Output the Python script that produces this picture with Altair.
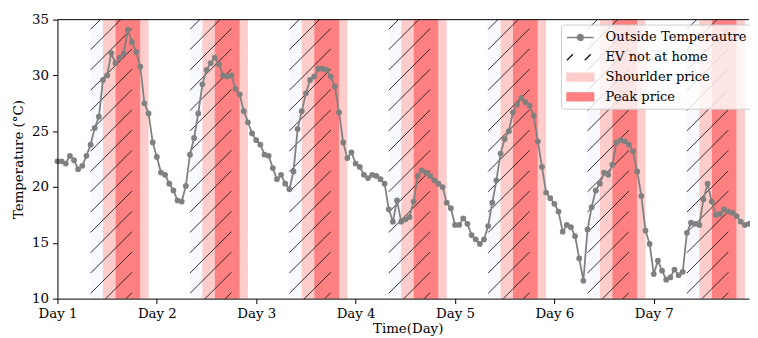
import altair as alt
import pandas as pd

# ---------------- data ----------------
temperature = [
    22.3, 22.3, 22.1, 22.8, 22.4, 21.6, 21.9, 22.8, 23.8, 25.3, 26.3, 29.6, 30.0, 32.0, 31.1, 31.6, 32.0, 34.1, 33.0, 32.1, 30.8, 27.5, 26.6, 24.0,
    22.7, 21.3, 21.1, 20.3, 19.7, 18.8, 18.7, 20.1, 22.9, 24.4, 26.6, 29.2, 30.5, 31.1, 31.6, 31.0, 30.0, 29.9, 30.0, 28.8, 28.3, 26.8, 25.8, 24.8,
    24.2, 23.8, 22.9, 22.8, 21.7, 20.7, 21.1, 20.3, 19.8, 21.4, 25.2, 26.8, 28.4, 29.6, 29.9, 30.6, 30.6, 30.5, 29.9, 29.0, 26.7, 24.0, 22.6, 23.1,
    22.1, 21.8, 21.1, 20.8, 21.1, 21.0, 20.7, 20.3, 18.0, 16.9, 18.8, 16.9, 17.1, 17.3, 18.7, 21.0, 21.5, 21.3, 21.0, 20.6, 20.3, 20.0, 18.6, 18.1,
    16.6, 16.6, 17.2, 16.7, 15.7, 15.3, 14.9, 15.3, 16.5, 18.6, 20.6, 23.0, 24.3, 25.0, 26.7, 27.4, 28.0, 27.6, 27.3, 26.4, 24.1, 21.8, 19.5, 19.0,
    18.5, 17.8, 16.0, 16.6, 16.4, 15.6, 13.6, 11.6, 16.2, 18.2, 19.7, 20.3, 21.3, 21.1, 22.0, 24.0, 24.2, 24.1, 23.8, 23.2, 21.4, 19.2, 16.1, 14.9,
    12.2, 13.4, 12.5, 11.7, 11.9, 12.6, 12.1, 12.4, 15.9, 16.8, 16.7, 16.6, 18.9, 20.3, 18.7, 17.5, 17.6, 18.0, 17.8, 17.7, 17.4, 16.9, 16.6, 16.7,
]
hours = list(range(len(temperature)))

day_ticks = [0, 24, 48, 72, 96, 120, 144]
y_ticks = [10, 15, 20, 25, 30, 35]

# daily schedule (hour of day)
ev_away = [(8, 18)]
shoulder = [(11, 14), (20, 22)]
peak = [(14, 20)]
n_days = 7

legend_labels = ["Outside Temperautre", "EV not at home", "Shourlder price", "Peak price"]

# ---------------- style ----------------
FONT = "DejaVu Serif"
FS = 13.5
LEG_FS = 13.2
W, H = 699, 282
X_MAX = 167
Y_MIN, Y_MAX = 10, 35
GREY = "#808080"
SHOULDER_C = "#ffcccc"
PEAK_C = "#ff8080"
EV_BG = "#f7f9fe"

# ---------------- tables ----------------
temp_df = pd.DataFrame({"h": hours, "T": temperature})


def spans(periods):
    rows = []
    for d in range(n_days):
        for a, b in periods:
            rows.append({"s": 24 * d + a, "e": 24 * d + b})
    return pd.DataFrame(rows)


ev_df = spans(ev_away)
sh_df = spans(shoulder)
pk_df = spans(peak)

# hatch lines ("/" at 45 degrees in screen space) inside the EV-away spans
hatch_step = 1.82      # vertical spacing between hatch lines, in degC
hatch_base = 10.47
rows = []
for _, r in ev_df.iterrows():
    rise = (r.e - r.s) * (W / X_MAX) / (H / (Y_MAX - Y_MIN))
    for k in range(-3, 15):
        y0 = hatch_base + k * hatch_step
        rows.append({"x": r.s, "x2": r.e, "y": y0, "y2": y0 + rise})
hatch_df = pd.DataFrame(rows)

# ---------------- scales / axes ----------------
xs = alt.Scale(domain=[0, X_MAX], nice=False, zero=False)
ys = alt.Scale(domain=[Y_MIN, Y_MAX], nice=False, zero=False)

x_axis = alt.Axis(
    values=day_ticks, labelExpr="'Day ' + (datum.value / 24 + 1)", title="Time(Day)",
    grid=False, labelFont=FONT, labelFontSize=FS, labelColor="black",
    titleFont=FONT, titleFontSize=FS, titleFontWeight="normal", titleColor="black",
    tickColor="black", tickSize=5, domainColor="black", domainWidth=1,
    labelPadding=3, titlePadding=2, titleX=354, zindex=1, labelFlush=False,
)
y_axis = alt.Axis(
    values=y_ticks, title="Temperature (°C)", grid=False,
    labelFont=FONT, labelFontSize=FS, labelColor="black",
    titleFont=FONT, titleFontSize=FS, titleFontWeight="normal", titleColor="black",
    tickColor="black", tickSize=5, domainColor="black", domainWidth=1,
    labelPadding=4, titlePadding=6, zindex=1,
)


def X(f):
    return alt.X(f, type="quantitative", scale=xs, axis=x_axis)


def Y(f):
    return alt.Y(f, type="quantitative", scale=ys, axis=y_axis)


ev_layer = alt.Chart(ev_df).mark_rect(color=EV_BG).encode(
    x=X("s"), x2="e", y=alt.datum(Y_MAX, scale=ys, axis=y_axis), y2=alt.datum(Y_MIN)
)
sh_layer = alt.Chart(sh_df).mark_rect(color=SHOULDER_C).encode(
    x=X("s"), x2="e", y=alt.datum(Y_MAX, scale=ys, axis=y_axis), y2=alt.datum(Y_MIN)
)
pk_layer = alt.Chart(pk_df).mark_rect(color=PEAK_C).encode(
    x=X("s"), x2="e", y=alt.datum(Y_MAX, scale=ys, axis=y_axis), y2=alt.datum(Y_MIN)
)
hatch_layer = alt.Chart(hatch_df).mark_rule(color="#1a1a1a", strokeWidth=0.9, clip=True).encode(
    x=X("x"), x2="x2", y=Y("y"), y2="y2"
)
line_layer = alt.Chart(temp_df).mark_line(color=GREY, strokeWidth=1.8).encode(x=X("h"), y=Y("T"))
dot_layer = alt.Chart(temp_df).mark_circle(color=GREY, size=34, opacity=1).encode(x=X("h"), y=Y("T"))

top_frame = alt.Chart(pd.DataFrame({"T": [Y_MAX]})).mark_rule(color="black", strokeWidth=1).encode(
    y=Y("T"), x=alt.value(0), x2=alt.value(W)
)

# ---------------- legend (dummy layer, symbols are clipped away) ----------------
sym_line = "M-1,0L2.86,0M0.5,0A0.43,0.43,0,1,0,1.36,0A0.43,0.43,0,1,0,0.5,0Z"
sym_hatch = "M-1,0.43L-0.14,-0.43M1.57,0.43L2.43,-0.43"
sym_rect = "M-1,-0.57L2.86,-0.57L2.86,0.57L-1,0.57Z"

legend = alt.Legend(
    title=None, orient="none", legendX=509, legendY=5,
    fillColor="rgba(255,255,255,0.8)", strokeColor="#cccccc", cornerRadius=3, padding=5,
    labelFont=FONT, labelFontSize=LEG_FS, labelColor="black", labelOffset=24, labelLimit=400,
    symbolSize=196, symbolStrokeWidth=1.4, rowPadding=5, zindex=1,
)
leg_df = pd.DataFrame({"lab": legend_labels, "h": [-100] * 4, "T": [20] * 4})
leg_layer = alt.Chart(leg_df).mark_point(clip=True, opacity=1, filled=True, size=196).encode(
    x=X("h"), y=Y("T"),
    shape=alt.Shape("lab:N", scale=alt.Scale(domain=legend_labels, range=[sym_line, sym_hatch, sym_rect, sym_rect]), legend=legend),
    fill=alt.Fill("lab:N", scale=alt.Scale(domain=legend_labels, range=[GREY, "transparent", SHOULDER_C, PEAK_C]), legend=legend),
    stroke=alt.Stroke("lab:N", scale=alt.Scale(domain=legend_labels, range=[GREY, "#1a1a1a", SHOULDER_C, PEAK_C]), legend=legend),
)

chart = alt.layer(
    ev_layer, sh_layer, pk_layer, hatch_layer, line_layer, dot_layer, top_frame, leg_layer
).properties(
    width=W, height=H,
    autosize=alt.AutoSizeParams(type="none"),
    padding={"left": 50, "top": 10, "right": 1, "bottom": 36},
    background="white",
).configure_view(stroke=None)

chart.save("out.html", embed_options={"renderer": "svg", "actions": False})
